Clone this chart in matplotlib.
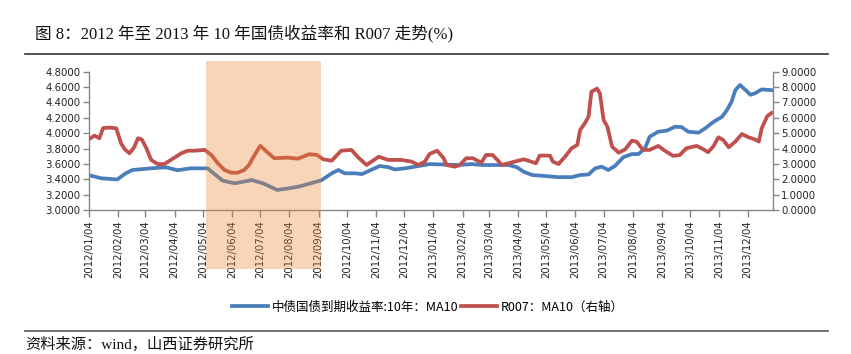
import matplotlib
matplotlib.use('Agg')
import matplotlib.pyplot as plt
import matplotlib.dates as mdates
import pandas as pd
from matplotlib.patches import Rectangle
from matplotlib.lines import Line2D
from matplotlib.transforms import blended_transform_factory

plt.rcParams['font.family'] = ['DejaVu Sans']
plt.rcParams['axes.linewidth'] = 1

cjk = ['Noto Sans CJK SC', 'DejaVu Sans']
serif_cjk = ['Liberation Serif', 'Noto Sans CJK SC']

# 10Y treasury yield, MA10 (left axis, %)
bond_dates = ['2012-01-04', '2012-01-17', '2012-02-03', '2012-02-12', '2012-02-19', '2012-03-10',
              '2012-03-26', '2012-04-07', '2012-04-21', '2012-05-09', '2012-05-25', '2012-06-07',
              '2012-06-25', '2012-07-07', '2012-07-22', '2012-08-04', '2012-08-15', '2012-09-07',
              '2012-09-18', '2012-09-25', '2012-10-02', '2012-10-13', '2012-10-20', '2012-10-29',
              '2012-11-08', '2012-11-17', '2012-11-24', '2012-12-05', '2012-12-15', '2012-12-31',
              '2013-01-31', '2013-02-14', '2013-02-25', '2013-03-25', '2013-04-03', '2013-04-10',
              '2013-04-19', '2013-05-03', '2013-05-17', '2013-05-31', '2013-06-09', '2013-06-18',
              '2013-06-25', '2013-07-02', '2013-07-09', '2013-07-16', '2013-07-25', '2013-08-03',
              '2013-08-10', '2013-08-17', '2013-08-22', '2013-08-31', '2013-09-09', '2013-09-18',
              '2013-09-25', '2013-10-02', '2013-10-13', '2013-10-20', '2013-10-29', '2013-11-07',
              '2013-11-12', '2013-11-17', '2013-11-21', '2013-11-26', '2013-12-02', '2013-12-07',
              '2013-12-12', '2013-12-19', '2013-12-30']
bond_yield = [3.455, 3.416, 3.40, 3.48, 3.523, 3.545,
              3.558, 3.52, 3.545, 3.545, 3.385, 3.35,
              3.393, 3.35, 3.264, 3.286, 3.31, 3.39,
              3.48, 3.523, 3.48, 3.48, 3.47, 3.52,
              3.575, 3.56, 3.53, 3.545, 3.566, 3.60,
              3.588, 3.60, 3.588, 3.588, 3.558, 3.50,
              3.458, 3.445, 3.43, 3.43, 3.458, 3.465,
              3.545, 3.566, 3.523, 3.575, 3.69, 3.73,
              3.73, 3.805, 3.956, 4.02, 4.034, 4.085,
              4.08, 4.02, 4.008, 4.065, 4.15, 4.215,
              4.30, 4.41, 4.56, 4.627, 4.56, 4.50,
              4.52, 4.57, 4.56]

# R007, MA10 (right axis, %)
r007_dates = ['2012-01-04', '2012-01-10', '2012-01-15', '2012-01-19', '2012-01-26', '2012-02-02',
              '2012-02-07', '2012-02-11', '2012-02-16', '2012-02-21', '2012-02-25', '2012-02-29',
              '2012-03-05', '2012-03-10', '2012-03-17', '2012-03-24', '2012-03-31', '2012-04-11',
              '2012-04-18', '2012-04-25', '2012-05-06', '2012-05-13', '2012-05-20', '2012-05-27',
              '2012-06-03', '2012-06-10', '2012-06-17', '2012-06-22', '2012-06-26', '2012-07-04',
              '2012-07-12', '2012-07-19', '2012-08-02', '2012-08-13', '2012-08-25', '2012-09-02',
              '2012-09-09', '2012-09-18', '2012-09-28', '2012-10-09', '2012-10-16', '2012-10-25',
              '2012-11-07', '2012-11-17', '2012-12-01', '2012-12-12', '2012-12-19', '2012-12-26',
              '2012-12-31', '2013-01-08', '2013-01-15', '2013-01-18', '2013-01-27', '2013-02-01',
              '2013-02-08', '2013-02-15', '2013-02-24', '2013-03-01', '2013-03-08', '2013-03-13',
              '2013-03-18', '2013-03-27', '2013-04-10', '2013-04-18', '2013-04-23', '2013-04-27',
              '2013-05-08', '2013-05-11', '2013-05-17', '2013-05-24', '2013-05-31', '2013-06-06',
              '2013-06-09', '2013-06-14', '2013-06-18', '2013-06-21', '2013-06-27', '2013-06-30',
              '2013-07-04', '2013-07-08', '2013-07-13', '2013-07-20', '2013-07-27', '2013-08-03',
              '2013-08-08', '2013-08-15', '2013-08-22', '2013-08-31', '2013-09-07', '2013-09-16',
              '2013-09-23', '2013-09-30', '2013-10-11', '2013-10-18', '2013-10-23', '2013-10-29',
              '2013-11-03', '2013-11-08', '2013-11-14', '2013-11-21', '2013-11-28', '2013-12-05',
              '2013-12-12', '2013-12-16', '2013-12-19', '2013-12-25', '2013-12-30']
r007_ma10 = [4.62, 4.85, 4.675, 5.34, 5.37, 5.32,
             4.35, 3.96, 3.70, 4.09, 4.675, 4.60,
             4.03, 3.27, 3.00, 3.00, 3.27, 3.70,
             3.87, 3.87, 3.92, 3.59, 3.05, 2.62,
             2.44, 2.44, 2.62, 2.94, 3.38, 4.19,
             3.74, 3.38, 3.42, 3.35, 3.64, 3.60,
             3.31, 3.22, 3.87, 3.92, 3.44, 2.94,
             3.48, 3.27, 3.27, 3.16, 2.94, 3.16,
             3.66, 3.87, 3.38, 2.94, 2.83, 2.94,
             3.38, 3.38, 3.09, 3.59, 3.59, 3.27,
             2.94, 3.09, 3.31, 3.16, 3.05, 3.55,
             3.55, 3.16, 3.00, 3.48, 4.03, 4.24,
             5.21, 5.65, 6.08, 7.70, 7.90, 7.60,
             5.86, 5.43, 4.13, 3.74, 3.96, 4.52,
             4.46, 3.92, 3.92, 4.18, 3.87, 3.53,
             3.59, 4.03, 4.18, 3.96, 3.77, 4.18,
             4.74, 4.57, 4.09, 4.46, 4.95, 4.74,
             4.60, 4.46, 5.32, 6.12, 6.34]

tick_dates = pd.date_range('2012-01-01', '2013-12-01', freq='MS') + pd.Timedelta(days=3)
shade_start, shade_end = '2012-05-07', '2012-09-07'

blue = '#4A7EBB'
red = '#C0504D'
spine_c = '#868686'

fig = plt.figure(figsize=(8.51, 3.54), dpi=100)
ax1 = fig.add_axes([0.1046, 0.406, 0.8037, 0.3915])
ax2 = ax1.twinx()

ax1.plot(pd.to_datetime(bond_dates), bond_yield, color=blue, lw=2.7, solid_capstyle='round')
ax2.plot(pd.to_datetime(r007_dates), r007_ma10, color=red, lw=2.7, solid_capstyle='round')

ax1.set_xlim(pd.Timestamp('2012-01-04'), pd.Timestamp('2013-12-31'))
ax1.set_ylim(3.0, 4.8)
ax2.set_ylim(0, 9)
ax1.set_yticks([3.0 + 0.2 * i for i in range(10)])
ax2.set_yticks(range(10))
ax1.yaxis.set_major_formatter(plt.FormatStrFormatter('%.4f'))
ax2.yaxis.set_major_formatter(plt.FormatStrFormatter('%.4f'))

ax1.set_xticks(tick_dates)
ax1.xaxis.set_major_formatter(mdates.DateFormatter('%Y/%m/%d'))
for lab in ax1.get_xticklabels():
    lab.set_rotation(90)

for ax in (ax1, ax2):
    ax.spines['top'].set_visible(False)
    for s in ('left', 'right', 'bottom'):
        ax.spines[s].set_color(spine_c)
    ax.tick_params(axis='both', labelsize=7.3, colors=spine_c, labelcolor='#222222', length=4, width=1)
ax1.spines['right'].set_visible(False)
ax2.spines['left'].set_visible(False)
ax2.spines['bottom'].set_visible(False)
ax1.tick_params(axis='x', length=5, pad=2)
ax1.tick_params(axis='y', pad=2)
ax2.tick_params(axis='y', pad=2)

# shaded period, drawn over the lines
trans = blended_transform_factory(ax2.transData, ax2.transAxes)
x0 = mdates.date2num(pd.Timestamp(shade_start))
x1 = mdates.date2num(pd.Timestamp(shade_end))
ax2.add_patch(Rectangle((x0, -0.423), x1 - x0, 1.501, transform=trans,
                        facecolor='#EB8734', edgecolor='none', alpha=0.35,
                        clip_on=False, zorder=5))

handles = [Line2D([], [], color=blue, lw=2.7), Line2D([], [], color=red, lw=2.7)]
fig.legend(handles, ['中债国债到期收益率:10年：MA10', 'R007：MA10（右轴）'],
           loc='center', bbox_to_anchor=(0.503, 0.133), ncol=2, frameon=False,
           prop={'family': cjk, 'size': 9}, handlelength=2.9, handletextpad=0.3,
           columnspacing=0.2)

fig.text(35 / 851, 1 - 33 / 354, '图 8：2012 年至 2013 年 10 年国债收益率和 R007 走势(%)',
         family=serif_cjk, fontsize=12, va='center', ha='left', color='#111111')
fig.add_artist(Line2D([25 / 851, 828 / 851], [1 - 53.5 / 354, 1 - 53.5 / 354],
                      color='#333333', lw=1.2))
fig.add_artist(Line2D([25 / 851, 828 / 851], [1 - 330.5 / 354, 1 - 330.5 / 354],
                      color='#555555', lw=1.2))
fig.text(25 / 851, 1 - 352 / 354, '资料来源：wind，山西证券研究所',
         family=serif_cjk, fontsize=11, va='bottom', ha='left', color='#111111')

fig.savefig('out.png', dpi=100)
